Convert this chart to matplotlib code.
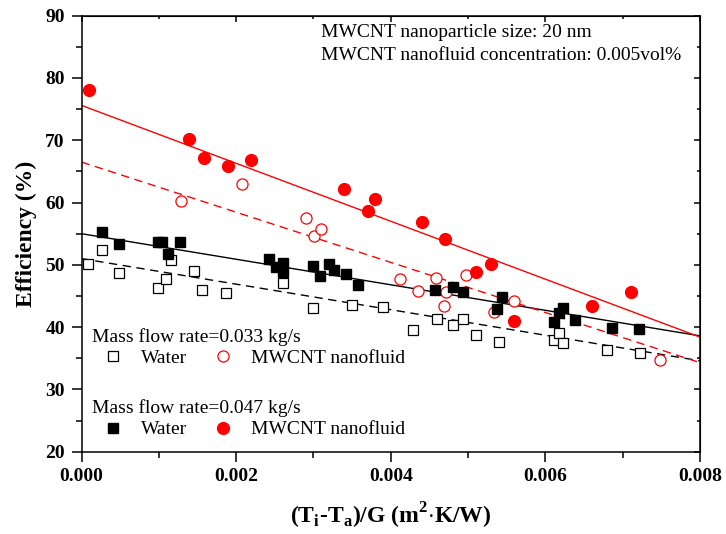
import matplotlib
matplotlib.use("Agg")
import matplotlib.pyplot as plt
from matplotlib.ticker import MultipleLocator, FormatStrFormatter

plt.rcParams["font.family"] = ["Liberation Serif", "DejaVu Serif"]
plt.rcParams["mathtext.fontset"] = "custom"
plt.rcParams["mathtext.rm"] = "Liberation Serif"
plt.rcParams["mathtext.bf"] = "Liberation Serif:bold"

# mass flow rate 0.047 kg/s
water_047_x = [0.00027, 0.000485, 0.00099, 0.00104, 0.00112, 0.00128, 0.00242, 0.00252,
               0.00261, 0.00261, 0.00299, 0.00309, 0.0032, 0.00326, 0.00342, 0.00358,
               0.00457, 0.00481, 0.00494, 0.00544, 0.00537, 0.00611, 0.00618, 0.00623,
               0.00638, 0.00686, 0.00721]
water_047_y = [55.2, 53.3, 53.6, 53.6, 51.8, 53.7, 50.9, 49.6,
               50.3, 48.8, 49.8, 48.2, 50.2, 49.1, 48.6, 46.8,
               46.0, 46.4, 45.6, 44.8, 42.85, 40.9, 42.3, 43.0,
               41.2, 39.9, 39.7]
nano_047_x = [0.0001, 0.001395, 0.00159, 0.00189, 0.00219, 0.0034, 0.0037, 0.0038,
              0.0044, 0.0047, 0.0051, 0.0053, 0.0056, 0.0066, 0.00711]
nano_047_y = [78.1, 70.2, 67.2, 65.9, 66.8, 62.1, 58.65, 60.5,
              56.8, 54.1, 48.8, 50.2, 41.0, 43.4, 45.7]

# mass flow rate 0.033 kg/s
water_033_x = [0.000088, 0.00027, 0.000485, 0.00099, 0.00109, 0.00116, 0.00146, 0.00156,
               0.00187, 0.00261, 0.0030, 0.0035, 0.0039, 0.00429, 0.0046, 0.0048,
               0.00494, 0.0051, 0.0054, 0.00611, 0.00618, 0.00623, 0.0068, 0.00722]
water_033_y = [50.2, 52.4, 48.7, 46.3, 47.7, 50.7, 49.0, 45.9,
               45.5, 47.1, 43.0, 43.6, 43.2, 39.5, 41.35, 40.4,
               41.35, 38.8, 37.6, 37.9, 39.0, 37.5, 36.4, 35.9]
nano_033_x = [0.00129, 0.00207, 0.0029, 0.00301, 0.0031, 0.00412, 0.00435, 0.00459,
              0.00469, 0.00472, 0.00497, 0.00534, 0.00559, 0.00748]
nano_033_y = [60.3, 62.9, 57.6, 54.7, 55.8, 47.7, 45.8, 47.9,
              43.4, 45.7, 48.3, 42.4, 44.25, 34.8]

# linear fits, read at both ends of the x range
fit_x = [0.0, 0.008]
fit_water_047 = [55.0, 38.6]
fit_nano_047 = [75.6, 38.4]
fit_water_033 = [51.0, 34.6]
fit_nano_033 = [66.5, 34.3]

fig = plt.figure(figsize=(7.26, 5.34), dpi=100)
ax = fig.add_axes([0.1123, 0.1541, 0.8519, 0.8165])

ax.plot(fit_x, fit_water_047, color="black", lw=1.0, zorder=2)
ax.plot(fit_x, fit_nano_047, color="red", lw=1.0, zorder=2)
ax.plot(fit_x, fit_water_033, color="black", lw=1.0, ls=(0, (6, 4)), zorder=2)
ax.plot(fit_x, fit_nano_033, color="red", lw=1.0, ls=(0, (6, 4)), zorder=2)

h_w33, = ax.plot(water_033_x, water_033_y, ls="none", marker="s", ms=6.5, mfc="white",
                 mec="black", mew=0.9, zorder=3)
h_n33, = ax.plot(nano_033_x, nano_033_y, ls="none", marker="o", ms=8, mfc="white",
                 mec="red", mew=0.9, zorder=3)
h_w47, = ax.plot(water_047_x, water_047_y, ls="none", marker="s", ms=7, color="black", zorder=4)
h_n47, = ax.plot(nano_047_x, nano_047_y, ls="none", marker="o", ms=8.5, color="red", zorder=4)

ax.set_xlim(0, 0.008)
ax.set_ylim(20, 90)
ax.xaxis.set_major_locator(MultipleLocator(0.002))
ax.xaxis.set_minor_locator(MultipleLocator(0.001))
ax.xaxis.set_major_formatter(FormatStrFormatter("%.3f"))
ax.yaxis.set_major_locator(MultipleLocator(10))
ax.yaxis.set_minor_locator(MultipleLocator(5))
ax.tick_params(which="major", direction="out", length=7, width=1.1, labelsize=14, pad=5)
ax.tick_params(which="minor", direction="out", length=4, width=1.1)
for lab in ax.get_xticklabels() + ax.get_yticklabels():
    lab.set_fontweight("bold")
for sp in ax.spines.values():
    sp.set_linewidth(1.1)

# mirrored ticks on top and right, pointing inwards
top = ax.secondary_xaxis("top")
top.xaxis.set_major_locator(MultipleLocator(0.002))
top.xaxis.set_minor_locator(MultipleLocator(0.001))
top.tick_params(which="both", direction="in", labeltop=False, width=1.1)
top.tick_params(which="major", length=4)
top.tick_params(which="minor", length=2.5)
right = ax.secondary_yaxis("right")
right.yaxis.set_major_locator(MultipleLocator(10))
right.yaxis.set_minor_locator(MultipleLocator(5))
right.tick_params(which="both", direction="in", labelright=False, width=1.1)
right.tick_params(which="major", length=4)
right.tick_params(which="minor", length=2.5)

ax.set_ylabel("Efficiency (%)", fontsize=17, fontweight="bold", labelpad=6)
ax.set_xlabel(r"(T$_\mathbf{i}$-T$_\mathbf{a}$)/G (m$^\mathbf{2}$$\cdot$K/W)",
              fontsize=17, fontweight="bold", labelpad=11)

ax.text(0.387, 0.981, "MWCNT nanoparticle size: 20 nm\nMWCNT nanofluid concentration: 0.005vol%",
        transform=ax.transAxes, ha="left", va="top", fontsize=14, linespacing=1.5)

leg_kw = dict(ncol=2, frameon=False, loc="upper left", fontsize=14, title_fontsize=14,
              alignment="left", handlelength=2.16, handletextpad=0.36, columnspacing=0.77,
              borderpad=0, borderaxespad=0, labelspacing=0.2)
leg1 = ax.legend([h_w33, h_n33], ["Water", "MWCNT nanofluid"], title="Mass flow rate=0.033 kg/s",
                 bbox_to_anchor=(0.017, 0.284), **leg_kw)
ax.add_artist(leg1)
ax.legend([h_w47, h_n47], ["Water", "MWCNT nanofluid"], title="Mass flow rate=0.047 kg/s",
          bbox_to_anchor=(0.017, 0.121), **leg_kw)

fig.savefig("out.png", dpi=100)
